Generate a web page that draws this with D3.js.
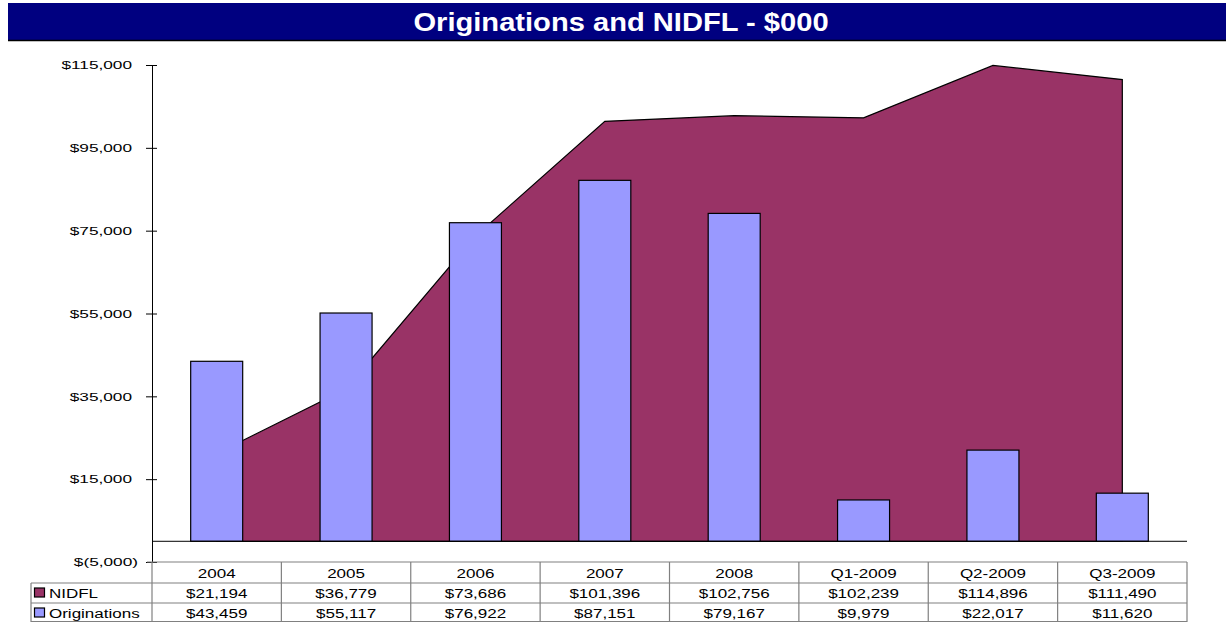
<!DOCTYPE html>
<html>
<head>
<meta charset="utf-8">
<script src="https://cdn.jsdelivr.net/npm/d3@7"></script>
<style>
  body { margin: 0; background: #fff; }
  svg text { font-family: "Liberation Sans", Arial, sans-serif; }
</style>
</head>
<body>
<div id="chart"></div>
<script>
// chart data
var categories = ["2004", "2005", "2006", "2007", "2008", "Q1-2009", "Q2-2009", "Q3-2009"];
var nidfl = [21194, 36779, 73686, 101396, 102756, 102239, 114896, 111490];
var originations = [43459, 55117, 76922, 87151, 79167, 9979, 22017, 11620];
var yTicks = [-5000, 15000, 35000, 55000, 75000, 95000, 115000];
var seriesNames = ["NIDFL", "Originations"];
var seriesColors = ["#993366", "#9999FF"];

var W = 1226, H = 622;
var plot = {left: 152, right: 1187, top: 65, bottom: 562};

var svg = d3.select("#chart").append("svg")
    .attr("width", W)
    .attr("height", H);

// text in the original is horizontally stretched
function stretchedText(g, tx, ty, sx, str) {
  return g.append("text")
      .attr("transform", "translate(" + tx + "," + ty + ") scale(" + sx + ",1)")
      .text(str);
}

// title bar
svg.append("rect")
    .attr("x", 8).attr("y", 3)
    .attr("width", W - 8).attr("height", 37)
    .style("fill", "#000080");
svg.append("line")
    .attr("x1", 8).attr("x2", W)
    .attr("y1", 40.5).attr("y2", 40.5)
    .style("stroke", "#000").style("stroke-width", 1.5);
stretchedText(svg, 621, 31, 1.12, "Originations and NIDFL - $000")
    .attr("text-anchor", "middle")
    .style("font-size", "26px")
    .style("font-weight", "bold")
    .style("fill", "#fff");

// scales
var x = d3.scaleBand().domain(categories).range([plot.left, plot.right]);
var y = d3.scaleLinear().domain([-5000, 115000]).range([plot.bottom, plot.top]);
var cx = function(i) { return x(categories[i]) + x.bandwidth() / 2; };

// area for NIDFL
var area = d3.area()
    .x(function(d, i) { return cx(i); })
    .y0(y(0))
    .y1(function(d) { return y(d); });
svg.append("path")
    .datum(nidfl)
    .attr("d", area)
    .style("fill", seriesColors[0])
    .style("stroke", "#000")
    .style("stroke-width", 1.2);

// bars for originations
var barW = 52;
svg.selectAll("rect.bar")
    .data(originations)
  .enter().append("rect")
    .attr("class", "bar")
    .attr("x", function(d, i) { return cx(i) - barW / 2; })
    .attr("y", function(d) { return y(d); })
    .attr("width", barW)
    .attr("height", function(d) { return y(0) - y(d); })
    .style("fill", seriesColors[1])
    .style("stroke", "#000")
    .style("stroke-width", 1.2);

// zero line
svg.append("line")
    .attr("x1", plot.left).attr("x2", plot.right)
    .attr("y1", y(0)).attr("y2", y(0))
    .style("stroke", "#000");

// y axis
var ySx = 1.5;
var yAxis = svg.append("g")
    .attr("transform", "translate(" + plot.left + ",0)")
    .call(d3.axisLeft(y).tickValues(yTicks).tickSize(6).tickPadding(20)
      .tickFormat(function(d) {
        var s = d3.format(",")(Math.abs(d));
        return d < 0 ? "$(" + s + ")" : "$" + s;
      }));
yAxis.select(".domain").style("stroke", "#000");
yAxis.selectAll(".tick line").attr("x1", 5).style("stroke", "#000");
yAxis.selectAll("text")
    .style("font-size", "11.5px")
    .style("fill", "#000")
    .attr("x", function(d) { return (d < 0 ? -14 : -20) / ySx; })
    .attr("transform", "scale(" + ySx + ",1)");

// data table
var tSx = 1.36, tFont = "12.5px";
var rowH = [21, 20, 20];
var rowY = [plot.bottom, plot.bottom + rowH[0], plot.bottom + rowH[0] + rowH[1]];
var legendLeft = 31;
var grid = svg.append("g").style("stroke", "#808080").style("stroke-width", 1.2);

// horizontal lines
grid.append("line").attr("x1", plot.left - 5).attr("x2", plot.right)
    .attr("y1", rowY[0]).attr("y2", rowY[0]);
grid.append("line").attr("x1", legendLeft).attr("x2", plot.right)
    .attr("y1", rowY[1]).attr("y2", rowY[1]);
grid.append("line").attr("x1", legendLeft).attr("x2", plot.right)
    .attr("y1", rowY[2]).attr("y2", rowY[2]);
grid.append("line").attr("x1", legendLeft).attr("x2", plot.right)
    .attr("y1", H - 0.5).attr("y2", H - 0.5);

// vertical lines
grid.append("line").attr("x1", legendLeft).attr("x2", legendLeft)
    .attr("y1", rowY[1]).attr("y2", H);
categories.forEach(function(c) {
  grid.append("line").attr("x1", x(c)).attr("x2", x(c))
      .attr("y1", rowY[0]).attr("y2", H);
});
grid.append("line").attr("x1", plot.right).attr("x2", plot.right)
    .attr("y1", rowY[0]).attr("y2", H);

// header row
categories.forEach(function(c, i) {
  stretchedText(svg, cx(i), rowY[0] + 15.5, tSx, c)
      .attr("text-anchor", "middle")
      .style("font-size", tFont);
});

var money = function(d) { return "$" + d3.format(",")(d); };
[nidfl, originations].forEach(function(series, r) {
  var ty = rowY[r + 1] + 15;
  series.forEach(function(v, i) {
    stretchedText(svg, cx(i), ty, tSx, money(v))
        .attr("text-anchor", "middle")
        .style("font-size", tFont);
  });
  svg.append("rect")
      .attr("x", 34.5).attr("y", ty - 10)
      .attr("width", 10).attr("height", 9)
      .style("fill", seriesColors[r])
      .style("stroke", "#000")
      .style("stroke-width", 1.2);
  stretchedText(svg, 49, ty, tSx, seriesNames[r])
      .style("font-size", tFont);
});
</script>
</body>
</html>
